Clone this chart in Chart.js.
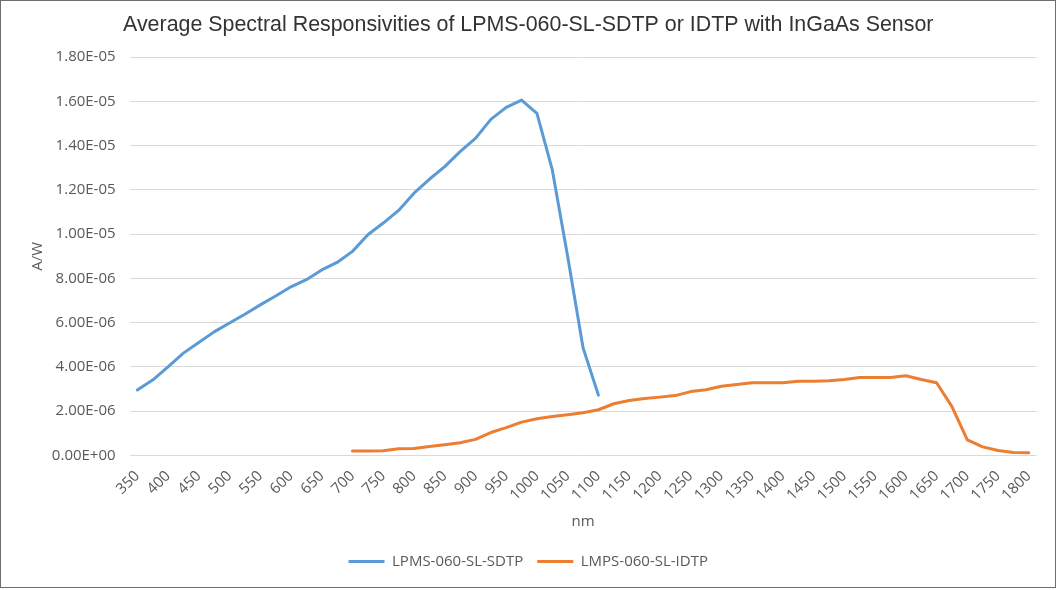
<!DOCTYPE html>
<html>
<head>
<meta charset="utf-8">
<script src="https://cdn.jsdelivr.net/npm/chart.js@4"></script>
<style>
  html, body { margin: 0; padding: 0; background: #ffffff; }
  #wrap { width: 1057px; height: 590px; position: relative; }
</style>
</head>
<body>
<div id="wrap"><canvas id="c" width="1057" height="590"></canvas></div>
<script>
// ---- data ----
const wavelengths = [350,375,400,425,450,475,500,525,550,575,600,625,650,675,700,725,750,775,800,825,850,875,900,925,950,975,1000,1025,1050,1075,1100,1125,1150,1175,1200,1225,1250,1275,1300,1325,1350,1375,1400,1425,1450,1475,1500,1525,1550,1575,1600,1625,1650,1675,1700,1725,1750,1775,1800];

const sdtp = [2.95e-6,3.40e-6,4.00e-6,4.62e-6,5.10e-6,5.58e-6,5.98e-6,6.38e-6,6.80e-6,7.20e-6,7.62e-6,7.94e-6,8.38e-6,8.72e-6,9.22e-6,9.97e-6,1.050e-5,1.107e-5,1.185e-5,1.248e-5,1.305e-5,1.373e-5,1.433e-5,1.519e-5,1.573e-5,1.606e-5,1.546e-5,1.290e-5,8.99e-6,4.86e-6,2.72e-6,
  null,null,null,null,null,null,null,null,null,null,null,null,null,null,null,null,null,null,null,null,null,null,null,null,null,null,null,null];

const idtp = [null,null,null,null,null,null,null,null,null,null,null,null,null,null,
  2.0e-7,2.0e-7,2.1e-7,3.0e-7,3.1e-7,4.0e-7,4.8e-7,5.7e-7,7.2e-7,1.03e-6,1.25e-6,1.50e-6,1.65e-6,1.75e-6,1.83e-6,1.92e-6,2.06e-6,2.33e-6,2.48e-6,2.57e-6,2.63e-6,2.70e-6,2.88e-6,2.96e-6,3.12e-6,3.20e-6,3.28e-6,3.28e-6,3.28e-6,3.35e-6,3.35e-6,3.37e-6,3.43e-6,3.52e-6,3.52e-6,3.52e-6,3.60e-6,3.43e-6,3.28e-6,2.20e-6,7.0e-7,3.8e-7,2.2e-7,1.3e-7,1.2e-7];

const seriesNames = ['LPMS-060-SL-SDTP', 'LMPS-060-SL-IDTP'];
const chartTitle = 'Average Spectral Responsivities of LPMS-060-SL-SDTP or IDTP with InGaAs Sensor';
const xTitle = 'nm';
const yTitle = 'A/W';

// ---- helpers ----
function fmtSci(v) {
  const s = Number(v).toExponential(2);
  const parts = s.split('e');
  let exp = parseInt(parts[1], 10);
  const sign = exp < 0 ? '-' : '+';
  exp = Math.abs(exp);
  return parts[0] + 'E' + sign + (exp < 10 ? '0' + exp : String(exp));
}

const tickFont = { family: '"Open Sans", sans-serif', size: 15 };
const grey = '#595959';

const frame = {
  id: 'frame',
  beforeDraw(chart) {
    const ctx = chart.ctx;
    ctx.save();
    ctx.fillStyle = '#ffffff';
    ctx.fillRect(0, 0, chart.width, chart.height);
    ctx.restore();
  },
  afterDraw(chart) {
    const ctx = chart.ctx;
    ctx.save();
    ctx.strokeStyle = '#6e6e6e';
    ctx.lineWidth = 1;
    ctx.strokeRect(0.5, 0.5, chart.width - 2, chart.height - 3);
    ctx.restore();
  }
};

new Chart(document.getElementById('c'), {
  type: 'line',
  data: {
    labels: wavelengths,
    datasets: [
      { label: seriesNames[0], data: sdtp, borderColor: '#5B9BD5', backgroundColor: '#5B9BD5',
        borderWidth: 3, pointRadius: 0, tension: 0, borderCapStyle: 'round', borderJoinStyle: 'round', spanGaps: false },
      { label: seriesNames[1], data: idtp, borderColor: '#ED7D31', backgroundColor: '#ED7D31',
        borderWidth: 3, pointRadius: 0, tension: 0, borderCapStyle: 'round', borderJoinStyle: 'round', spanGaps: false }
    ]
  },
  options: {
    responsive: false,
    animation: false,
    events: [],
    layout: { padding: { left: 20, right: 20.5, top: 0, bottom: 11 } },
    plugins: {
      title: {
        display: true, text: chartTitle, color: '#333333',
        font: { family: '"Liberation Sans", Arial, sans-serif', size: 21.4, weight: 'normal' },
        padding: { top: 12.5, bottom: 19 }
      },
      legend: {
        display: true, position: 'bottom',
        labels: {
          usePointStyle: true, pointStyle: 'line', pointStyleWidth: 36,
          color: grey, font: tickFont, padding: 14
        }
      },
      tooltip: { enabled: false }
    },
    scales: {
      x: {
        type: 'category',
        offset: true,
        grid: { display: false, drawTicks: false },
        border: { display: false },
        ticks: {
          autoSkip: false, maxRotation: 45, minRotation: 45, color: grey, font: tickFont, padding: 12,
          callback: function (val, idx) { return idx % 2 === 0 ? String(wavelengths[idx]) : ''; }
        },
        title: { display: true, text: xTitle, color: grey, font: tickFont, padding: { top: 0, bottom: 9 } },
        afterFit: function (scale) { scale.height = 84.7; }
      },
      y: {
        min: 0, max: 1.8e-5,
        grid: { color: '#D9D9D9', lineWidth: 1, drawTicks: false },
        border: { display: false },
        ticks: { stepSize: 2e-6, color: grey, font: tickFont, padding: 14, callback: function (v) { return fmtSci(v); } },
        title: { display: true, text: yTitle, color: grey, font: tickFont, padding: { top: 9, bottom: 0 } },
        afterFit: function (scale) { scale.width = 109.6; }
      }
    }
  },
  plugins: [frame]
});
</script>
</body>
</html>
